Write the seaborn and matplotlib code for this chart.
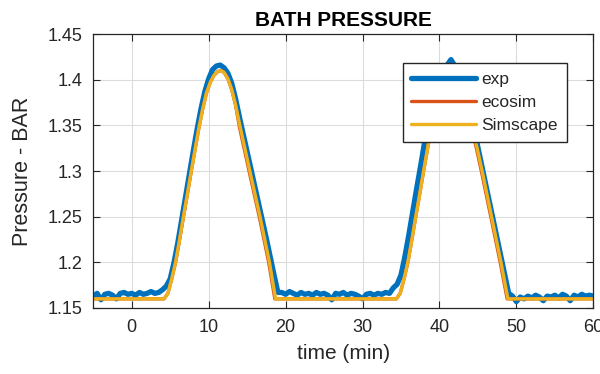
import matplotlib
matplotlib.use("Agg")
import matplotlib.pyplot as plt
import seaborn as sns
import pandas as pd

# Experimental bath pressure (bar) sampled every 0.5 min
exp_time = [
    -5.0, -4.5, -4.0, -3.5, -3.0, -2.5, -2.0, -1.5, -1.0, -0.5,
    0.0, 0.5, 1.0, 1.5, 2.0, 2.5, 3.0, 3.5, 4.0, 4.5,
    5.0, 5.5, 6.0, 6.5, 7.0, 7.5, 8.0, 8.5, 9.0, 9.5,
    10.0, 10.5, 11.0, 11.5, 12.0, 12.5, 13.0, 13.5, 14.0, 14.5,
    15.0, 15.5, 16.0, 16.5, 17.0, 17.5, 18.0, 18.5, 19.0, 19.5,
    20.0, 20.5, 21.0, 21.5, 22.0, 22.5, 23.0, 23.5, 24.0, 24.5,
    25.0, 25.5, 26.0, 26.5, 27.0, 27.5, 28.0, 28.5, 29.0, 29.5,
    30.0, 30.5, 31.0, 31.5, 32.0, 32.5, 33.0, 33.5, 34.0, 34.5,
    35.0, 35.5, 36.0, 36.5, 37.0, 37.5, 38.0, 38.5, 39.0, 39.5,
    40.0, 40.5, 41.0, 41.5, 42.0, 42.5, 43.0, 43.5, 44.0, 44.5,
    45.0, 45.5, 46.0, 46.5, 47.0, 47.5, 48.0, 48.5, 49.0, 49.5,
    50.0, 50.5, 51.0, 51.5, 52.0, 52.5, 53.0, 53.5, 54.0, 54.5,
    55.0, 55.5, 56.0, 56.5, 57.0, 57.5, 58.0, 58.5, 59.0, 59.5,
    60.0,
]
exp_val = [
    1.163, 1.166, 1.159, 1.165, 1.166, 1.164, 1.160, 1.166, 1.167, 1.165,
    1.166, 1.164, 1.167, 1.165, 1.166, 1.168, 1.166, 1.167, 1.170, 1.174,
    1.182, 1.200, 1.222, 1.247, 1.272, 1.297, 1.322, 1.346, 1.368, 1.387,
    1.401, 1.411, 1.415, 1.416, 1.413, 1.407, 1.396, 1.379, 1.359, 1.340,
    1.321, 1.302, 1.283, 1.264, 1.245, 1.226, 1.206, 1.186, 1.167, 1.167,
    1.165, 1.168, 1.166, 1.164, 1.167, 1.165, 1.166, 1.164, 1.167, 1.165,
    1.166, 1.164, 1.159, 1.166, 1.165, 1.167, 1.164, 1.166, 1.165, 1.163,
    1.160, 1.165, 1.166, 1.164, 1.166, 1.165, 1.167, 1.166, 1.172, 1.176,
    1.186, 1.206, 1.229, 1.254, 1.279, 1.303, 1.328, 1.352, 1.373, 1.391,
    1.404, 1.412, 1.416, 1.422, 1.415, 1.410, 1.400, 1.385, 1.366, 1.346,
    1.326, 1.306, 1.286, 1.266, 1.246, 1.226, 1.206, 1.186, 1.166, 1.163,
    1.157, 1.162, 1.160, 1.163, 1.161, 1.164, 1.162, 1.158, 1.163, 1.162,
    1.164, 1.161, 1.165, 1.163, 1.158, 1.164, 1.162, 1.165, 1.163, 1.164,
    1.163,
]

# ecosim model output
eco_time = [
    -5.0, 4.2, 4.7, 5.2, 5.7, 6.2, 6.7, 7.2, 7.7, 8.2, 8.7, 9.2, 9.7,
    10.2, 10.7, 11.2, 11.6, 12.0, 12.5, 13.0, 13.5, 14.0, 15.3, 16.6,
    17.8, 18.6, 34.4, 34.9, 35.4, 35.9, 36.4, 36.9, 37.4, 37.9, 38.4,
    38.9, 39.4, 39.9, 40.4, 40.9, 41.4, 41.8, 42.2, 42.7, 43.2, 43.7,
    44.2, 45.5, 46.7, 47.9, 48.8, 60.0,
]
eco_val = [
    1.160, 1.160, 1.166, 1.182, 1.200, 1.224, 1.249, 1.273, 1.298, 1.322,
    1.346, 1.367, 1.385, 1.397, 1.405, 1.409, 1.410, 1.408, 1.401, 1.389,
    1.372, 1.348, 1.298, 1.249, 1.200, 1.160, 1.160, 1.166, 1.182, 1.200,
    1.224, 1.249, 1.273, 1.298, 1.322, 1.346, 1.367, 1.385, 1.397, 1.405,
    1.409, 1.410, 1.408, 1.401, 1.389, 1.372, 1.348, 1.298, 1.249, 1.200,
    1.160, 1.160,
]

# Simscape model output
sim_time = [
    -5.0, 4.2, 4.7, 5.2, 5.7, 6.2, 6.7, 7.2, 7.7, 8.2, 8.7, 9.2, 9.7,
    10.2, 10.7, 11.2, 11.6, 12.0, 12.5, 13.0, 13.5, 14.1, 15.4, 16.7,
    17.9, 18.7, 34.4, 34.9, 35.4, 35.9, 36.4, 36.9, 37.4, 37.9, 38.4,
    38.9, 39.4, 39.9, 40.4, 40.9, 41.4, 41.8, 42.2, 42.7, 43.2, 43.7,
    44.3, 45.6, 46.8, 48.0, 48.9, 60.0,
]
sim_val = [
    1.160, 1.160, 1.166, 1.182, 1.200, 1.224, 1.249, 1.273, 1.298, 1.322,
    1.346, 1.367, 1.385, 1.397, 1.405, 1.409, 1.410, 1.408, 1.401, 1.389,
    1.372, 1.348, 1.298, 1.249, 1.200, 1.160, 1.160, 1.166, 1.182, 1.200,
    1.224, 1.249, 1.273, 1.298, 1.322, 1.346, 1.367, 1.385, 1.397, 1.405,
    1.409, 1.410, 1.408, 1.401, 1.389, 1.372, 1.348, 1.298, 1.249, 1.200,
    1.160, 1.160,
]

x_ticks = [0, 10, 20, 30, 40, 50, 60]
y_ticks = [1.15, 1.2, 1.25, 1.3, 1.35, 1.4, 1.45]
y_tick_labels = ["1.15", "1.2", "1.25", "1.3", "1.35", "1.4", "1.45"]

sns.set_theme(style="ticks")
plt.rcParams["font.family"] = ["Liberation Sans", "DejaVu Sans"]
ink = "#262626"

fig = plt.figure(figsize=(6.0, 3.74), dpi=100)
ax = fig.add_axes([0.1555, 0.1765, 0.8333, 0.7325])

series = [
    ("exp", exp_time, exp_val, "#0072BD", 3.8),
    ("ecosim", eco_time, eco_val, "#D95319", 2.4),
    ("Simscape", sim_time, sim_val, "#EDB120", 2.4),
]
for name, t, v, color, lw in series:
    df = pd.DataFrame({"time": t, "pressure": v})
    sns.lineplot(data=df, x="time", y="pressure", ax=ax, color=color,
                 linewidth=lw, label=name, estimator=None, sort=False)

ax.set_xlim(-5, 60)
ax.set_ylim(1.15, 1.45)
ax.set_xticks(x_ticks)
ax.set_yticks(y_ticks)
ax.set_yticklabels(y_tick_labels)
ax.grid(True, color="#dcdcdc", linewidth=0.8)
ax.set_axisbelow(True)
for s in ax.spines.values():
    s.set_color(ink)
    s.set_linewidth(0.9)
    s.set_visible(True)
ax.tick_params(direction="in", length=5, width=0.8, color=ink,
               labelcolor=ink, labelsize=13, top=True, right=True, pad=8)

ax.set_title("BATH PRESSURE", fontsize=15, fontweight="bold", color="black", pad=6)
ax.set_xlabel("time (min)", fontsize=15, color=ink, labelpad=6)
ax.set_ylabel("Pressure - BAR", fontsize=15.5, color=ink, labelpad=10)

leg = ax.legend(loc="upper right", bbox_to_anchor=(0.947, 0.893),
                borderaxespad=0, fontsize=12.5, handlelength=3.7,
                handletextpad=0.35, labelspacing=0.45, borderpad=0.5,
                fancybox=False, framealpha=1, edgecolor=ink)
leg.get_frame().set_linewidth(1.0)
for txt in leg.get_texts():
    txt.set_color(ink)

fig.savefig("out.png", dpi=100)
